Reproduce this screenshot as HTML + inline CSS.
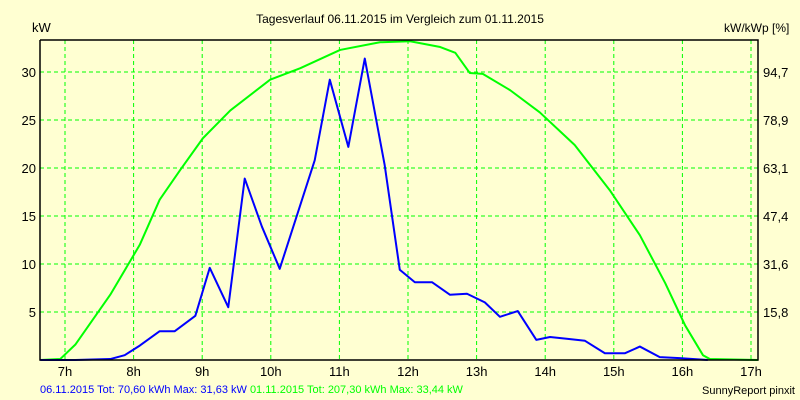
<!DOCTYPE html>
<html><head><meta charset="utf-8"><style>
body{margin:0;background:#ffffd2;}
svg{display:block;font-family:"Liberation Sans",sans-serif;font-size:12px;}
</style></head><body>
<svg id="c" width="800" height="400" viewBox="0 0 800 400">
<rect x="0" y="0" width="800" height="400" fill="#ffffd2"/>
<text x="400" y="23" text-anchor="middle">Tagesverlauf 06.11.2015 im Vergleich zum 01.11.2015</text>
<text x="32" y="32" font-size="13">kW</text>
<text x="724" y="32">kW/kWp [%]</text>
<g id="grid"></g><g id="series"></g><g id="axes"></g>
<text x="40" y="393" font-size="11" fill="#0000ff">06.11.2015 Tot: 70,60 kWh Max: 31,63 kW <tspan fill="#00ff00">01.11.2015 Tot: 207,30 kWh Max: 33,44 kW</tspan></text>
<text x="795" y="394" font-size="11" text-anchor="end">SunnyReport pinxit</text>
</svg>
<script>
const hourTicks=[7,8,9,10,11,12,13,14,15,16,17];
const kwTicks=[5,10,15,20,25,30];
const pctLabels=["15,8","31,6","47,4","63,1","78,9","94,7"];
const blueT=[6.64,7.15,7.66,7.87,8.09,8.38,8.60,8.90,9.11,9.38,9.62,9.87,10.13,10.64,10.86,11.13,11.37,11.66,11.88,12.10,12.35,12.61,12.86,13.12,13.34,13.60,13.87,14.07,14.33,14.58,14.87,15.16,15.38,15.67,15.96,16.37];
const blueKW=[0,0,0.1,0.5,1.5,3.0,3.0,4.6,9.6,5.5,18.9,13.9,9.5,20.8,29.2,22.2,31.4,20.3,9.4,8.1,8.1,6.8,6.9,6.0,4.5,5.1,2.1,2.4,2.2,2.0,0.7,0.7,1.4,0.3,0.2,0];
const greenT=[6.64,6.93,7.15,7.66,8.09,8.38,8.68,9.01,9.41,9.99,10.43,11.01,11.59,12.03,12.47,12.69,12.90,13.09,13.49,13.92,14.43,14.94,15.38,15.75,16.04,16.30,16.40,17.10];
const greenKW=[0,0.1,1.6,6.8,12.0,16.7,19.8,23.1,26.0,29.2,30.4,32.3,33.1,33.2,32.6,32.0,29.9,29.8,28.1,25.8,22.4,17.7,13.0,8.0,3.6,0.5,0.1,0];
const L=40,R=758,T=40,B=360;
const x=h=>65+(h-7)*68.6;
const y=k=>B-k*9.6;
const NS="http://www.w3.org/2000/svg";
function mk(p,tag,a){const e=document.createElementNS(NS,tag);for(const k in a)e.setAttribute(k,a[k]);p.appendChild(e);return e;}
const g=document.getElementById('grid'),s=document.getElementById('series'),ax=document.getElementById('axes');
hourTicks.forEach(h=>{
 const l=mk(g,'line',{x1:x(h),x2:x(h),y1:T,y2:B,stroke:'#00ff00','stroke-dasharray':'4,3'});
 
 
 const t=mk(ax,'text',{x:x(h),y:B+16,'text-anchor':'middle','font-size':'13'});t.textContent=h+'h';
 
 
});
kwTicks.forEach((k,i)=>{
 const l=mk(g,'line',{x1:L,x2:R,y1:y(k),y2:y(k),stroke:'#00ff00','stroke-dasharray':'4,3'});
 
 
 const t=mk(ax,'text',{x:L-4,y:y(k)+5,'text-anchor':'end','font-size':'13'});t.textContent=k;
 
 
 const t2=mk(ax,'text',{x:R+5,y:y(k)+5,'font-size':'13'});t2.textContent=pctLabels[i];
 
 
});
const a=mk(ax,'path',{d:`M${L},${T}V${B}H${R}V${T}H${L}`,fill:'none',stroke:'#000','stroke-width':1.5});


const gp=mk(s,'polyline',{points:greenT.map((t,i)=>x(t)+','+y(greenKW[i])).join(' '),fill:'none',stroke:'#00ff00','stroke-width':2,'stroke-linejoin':'round'});


const bp=mk(s,'polyline',{points:blueT.map((t,i)=>x(t)+','+y(blueKW[i])).join(' '),fill:'none',stroke:'#0000ff','stroke-width':2,'stroke-linejoin':'round'});


</script>
</body></html>
